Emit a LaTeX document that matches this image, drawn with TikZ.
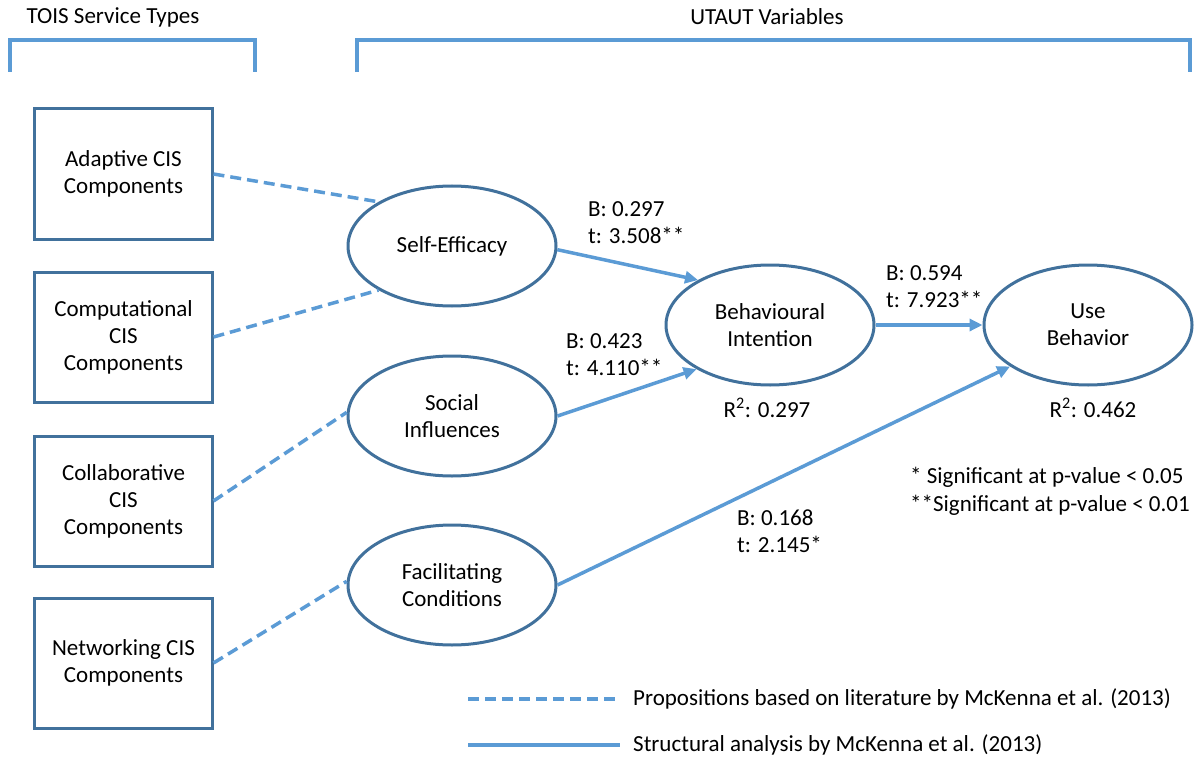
\documentclass[tikz,border=0pt]{standalone}
\usepackage{fontspec}
\setmainfont{Carlito}
\usetikzlibrary{arrows.meta,shapes.geometric}
\definecolor{dk}{HTML}{41719C}
\definecolor{lt}{HTML}{5B9BD5}
\begin{document}
\begin{tikzpicture}[x=1bp,y=-1bp,
  every node/.style={font=\fontsize{23bp}{27bp}\selectfont, inner sep=0pt},
  box/.style={draw=dk, line width=3bp, minimum width=177bp, minimum height=130bp, align=center},
  ell/.style={draw=dk, line width=3bp, ellipse, minimum width=208bp, minimum height=120bp, align=center},
  dashline/.style={draw=lt, line width=3.5bp, dash pattern=on 11bp off 6bp},
  solidline/.style={draw=lt, line width=3.5bp},
  arr/.style={solidline, -{Triangle[length=13bp,width=12bp]}},
  bracket/.style={draw=lt, line width=3.5bp},
  lbl/.style={align=left, anchor=west}]
\useasboundingbox (0,0) rectangle (1194,757);

% titles and brackets
\node (t1) at (113,17) {TOIS Service Types};
\node (t2) at (767,17) {UTAUT Variables};
\draw[bracket] (10,72) -- (10,40) -- (255,40) -- (255,72);
\draw[bracket] (357,72) -- (357,40) -- (1190,40) -- (1190,72);

% boxes
\node[box] (b1) at (123.5,174) {Adaptive CIS\\Components};
\node[box] (b2) at (123.5,337) {Computational\\CIS\\Components};
\node[box] (b3) at (123.5,501) {Collaborative\\CIS\\Components};
\node[box] (b4) at (123.5,663) {Networking CIS\\Components};

% ellipses
\node[ell] (se) at (452,246) {Self-Efficacy};
\node[ell] (si) at (452,416) {Social\\Influences};
\node[ell] (fc) at (452,585) {Facilitating\\Conditions};
\node[ell] (bi) at (770,325) {Behavioural\\Intention};
\node[ell] (ub) at (1088,325) {Use\\Behavior};

% dashed propositions
\draw[dashline] (b1.east) -- (se.149);
\draw[dashline] (b2.east) -- (se.211);
\draw[dashline] (b3.east) -- (si.178);
\draw[dashline] (b4.east) -- (fc.178);

% structural paths
\draw[arr] (se.-2) -- (bi.148);
\draw[arr] (si.east) -- (bi.211);
\draw[arr] (bi.east) -- (ub.west);
\draw[arr] (fc.east) -- (ub.208);

% path labels
\node[lbl] (p1) at (588,222.5) {B: 0.297\\t: 3.508**};
\node[lbl] (p2) at (566,355) {B: 0.423\\t: 4.110**};
\node[lbl] (p3) at (886,287) {B: 0.594\\t: 7.923**};
\node[lbl] (p4) at (737,531.5) {B: 0.168\\t: 2.145*};
\node (r1) at (767,408) {R\textsuperscript{2}: 0.297};
\node (r2) at (1093,408) {R\textsuperscript{2}: 0.462};
\node[anchor=west] (s1) at (910,477) {* Significant at p-value < 0.05};
\node[anchor=west] (s2) at (910,505) {**Significant at p-value < 0.01};

% legend
\coordinate (l1a) at (468,699);
\coordinate (l1b) at (620,699);
\coordinate (l2a) at (468,745);
\coordinate (l2b) at (620,745);
\draw[dashline] (l1a) -- (l1b);
\draw[solidline] (l2a) -- (l2b);
\node[anchor=west] (lg1) at (633,699) {Propositions based on literature by McKenna et al. (2013)};
\node[anchor=west] (lg2) at (633,745) {Structural analysis by McKenna et al. (2013)};
\end{tikzpicture}
\end{document}
